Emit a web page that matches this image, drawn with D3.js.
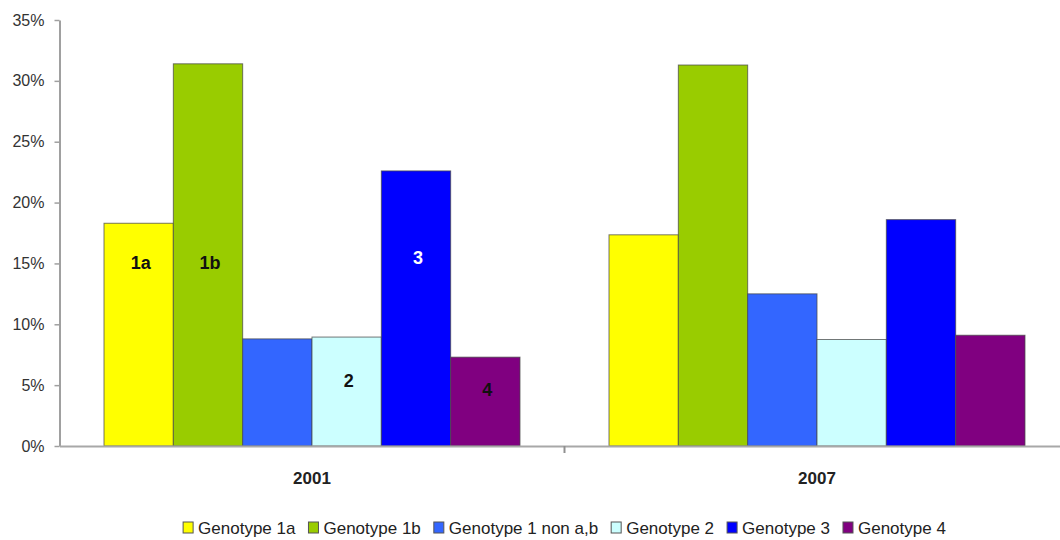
<!DOCTYPE html>
<html>
<head>
<meta charset="utf-8">
<script src="https://cdn.jsdelivr.net/npm/d3@7"></script>
<style>
  html, body { margin: 0; padding: 0; background: #fff; }
  svg { display: block; font-family: "Liberation Sans", Arial, sans-serif; }
</style>
</head>
<body>
<svg id="chart" width="1060" height="540"></svg>
<script>
// ---- data ----
const years = ["2001", "2007"];
const genotypes = ["Genotype 1a", "Genotype 1b", "Genotype 1 non a,b", "Genotype 2", "Genotype 3", "Genotype 4"];
const colors = ["#FFFF00", "#99CC00", "#3366FF", "#CCFFFF", "#0000FF", "#800080"];
const values2001 = [0.183, 0.314, 0.088, 0.0895, 0.226, 0.073];
const values2007 = [0.1735, 0.313, 0.125, 0.0875, 0.186, 0.091];
const yTicks = [0, 0.05, 0.10, 0.15, 0.20, 0.25, 0.30, 0.35];
// in-bar labels for 2001 (text, level in percent units where drawn, colour)
const barLabels = ["1a", "1b", "", "2", "3", "4"];
const barLabelLevel = [0.151, 0.151, null, 0.054, 0.155, 0.046];
const barLabelColor = ["#111", "#111", null, "#111", "#fff", "#111"];

const seriesByYear = { "2001": values2001, "2007": values2007 };

const svg = d3.select("#chart");

const y = d3.scaleLinear().domain([0, 0.35]).range([446, 20]);
const x0 = d3.scaleBand().domain(years).range([59.5, 1069.5]).paddingInner(0).paddingOuter(0);
const x1 = d3.scaleBand().domain(genotypes).range([44.5, x0.bandwidth() - 44.5]).padding(0);
const color = d3.scaleOrdinal().domain(genotypes).range(colors);

// bars
const groups = svg.append("g").selectAll("g")
  .data(years).join("g")
  .attr("transform", d => `translate(${x0(d)},0)`);

groups.selectAll("rect")
  .data(yr => genotypes.map((g, i) => ({ g, v: seriesByYear[yr][i] })))
  .join("rect")
  .attr("x", d => x1(d.g))
  .attr("y", d => y(d.v))
  .attr("width", x1.bandwidth())
  .attr("height", d => y(0) - y(d.v))
  .attr("fill", d => color(d.g))
  .attr("stroke", "#4a4a4a")
  .attr("stroke-opacity", 0.75)
  .attr("stroke-width", 1);

// in-bar labels (2001 group)
svg.append("g").attr("transform", `translate(${x0("2001")},0)`)
  .selectAll("text")
  .data(genotypes.map((g, i) => ({ g, t: barLabels[i], lv: barLabelLevel[i], c: barLabelColor[i] })).filter(d => d.t))
  .join("text")
  .attr("x", d => x1(d.g) + x1.bandwidth() / 2 + 2)
  .attr("y", d => y(d.lv))
  .attr("dy", "0.36em")
  .attr("text-anchor", "middle")
  .attr("font-weight", "bold")
  .attr("font-size", 18)
  .attr("fill", d => d.c)
  .text(d => d.t);

// y axis
const yAxis = d3.axisLeft(y).tickValues(yTicks).tickFormat(d3.format(".0%")).tickSize(5).tickSizeOuter(0);
const gy = svg.append("g").attr("transform", "translate(59.5,0)").call(yAxis);
gy.select(".domain").attr("stroke", "#a0a0a0").attr("stroke-width", 2);
gy.selectAll(".tick line").attr("stroke", "#a0a0a0").attr("stroke-width", 1.5);
gy.selectAll(".tick text").attr("font-size", 16).attr("fill", "#333").attr("x", -15)
  .attr("font-family", "'Liberation Sans', Arial, sans-serif");

// x axis
const xAxis = d3.axisBottom(x0).tickSize(0).tickSizeOuter(0);
const gx = svg.append("g").attr("transform", `translate(0,${y(0)})`).call(xAxis);
gx.select(".domain").attr("stroke", "#a8a8a8").attr("stroke-width", 2);
gx.selectAll(".tick text").attr("font-size", 17).attr("font-weight", "bold").attr("fill", "#222")
  .attr("y", 26).attr("font-family", "'Liberation Sans', Arial, sans-serif");
// separator tick between categories
gx.append("line")
  .attr("x1", x0("2007")).attr("x2", x0("2007"))
  .attr("y1", 0).attr("y2", 7)
  .attr("stroke", "#909090").attr("stroke-width", 2);

// legend
const legend = svg.append("g").attr("transform", "translate(0,528)");
const items = legend.selectAll("g").data(genotypes).join("g");
items.append("rect")
  .attr("width", 10).attr("height", 11).attr("y", -6)
  .attr("fill", d => color(d)).attr("stroke", "#555").attr("stroke-width", 1);
items.append("text")
  .attr("x", 15).attr("dy", "0.35em")
  .attr("font-size", 17).attr("fill", "#222")
  .text(d => d);
let cx = 0;
const offsets = [];
const gap = 13;
items.each(function() {
  const w = 15 + this.querySelector("text").getComputedTextLength();
  offsets.push(cx);
  cx += w + gap;
});
const total = cx - gap;
const start = x0("2007") - total / 2;
items.attr("transform", (d, i) => `translate(${start + offsets[i]},0)`);
</script>
</body>
</html>
